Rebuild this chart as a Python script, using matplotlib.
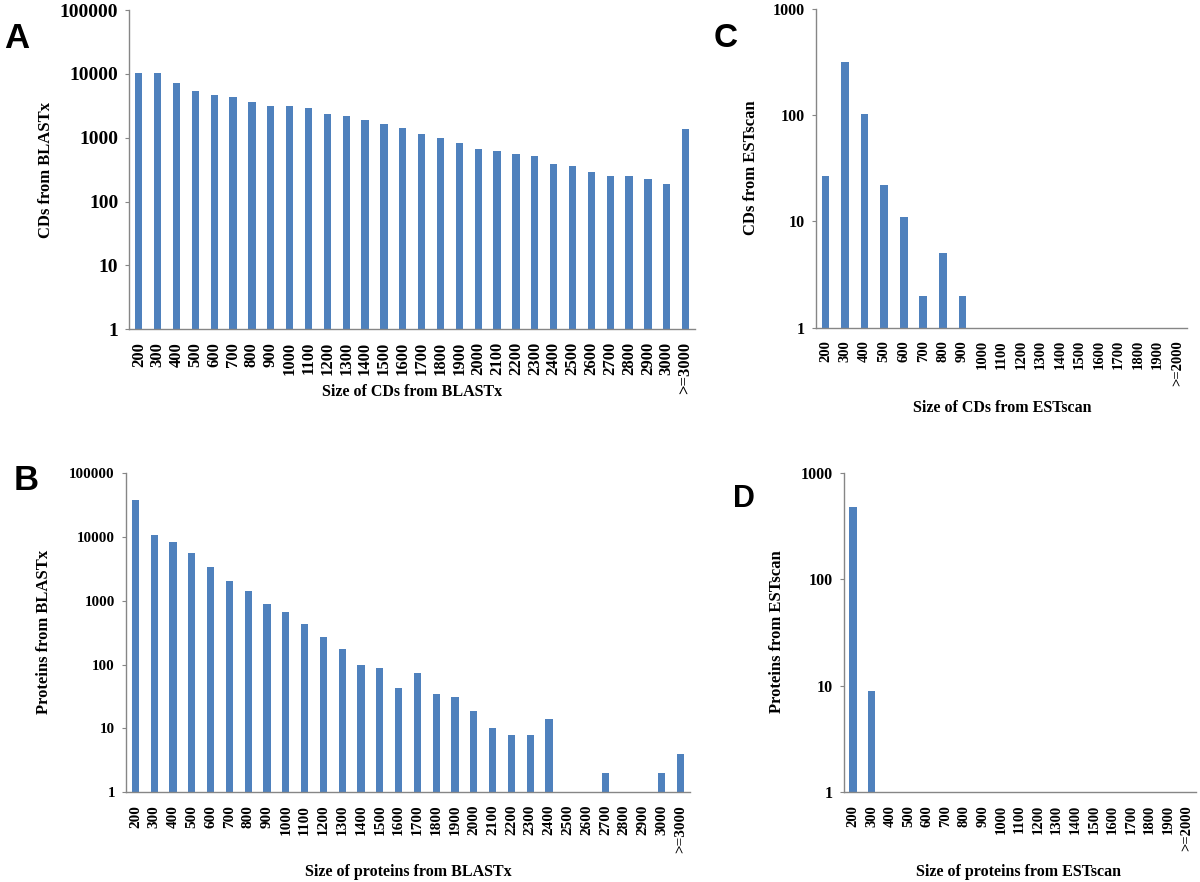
import numpy as np
import matplotlib
matplotlib.use('Agg')
import matplotlib.pyplot as plt
import matplotlib.ticker as ticker

# Categorias (tamanios)
tam_blastx = [str(t) for t in range(200, 3001, 100)] + ['>=3000']
tam_estscan = [str(t) for t in range(200, 1901, 100)] + ['>=2000']

# A: CDs de BLASTx
cds_blastx = [10300, 10500, 7180, 5400, 4650, 4280, 3650, 3090, 3130, 2880,
              2340, 2160, 1870, 1630, 1414, 1126, 997, 832, 663, 617,
              567, 520, 385, 355, 286, 256, 256, 224, 190, 1350]
# B: proteinas de BLASTx
prot_blastx = [38100, 10800, 8280, 5570, 3440, 2070, 1446, 885, 663, 440,
               272, 178, 99, 90, 43, 75, 35, 31, 19, 10,
               8, 8, 14, 0, 0, 2, 0, 0, 2, 4]
# C: CDs de ESTscan
cds_estscan = [27, 318, 103, 22, 11, 2, 5, 2] + [0] * 11
# D: proteinas de ESTscan
prot_estscan = [483, 9] + [0] * 17

azul = '#4F81BD'
gris = '#868686'
serif = 'Liberation Serif'

fig = plt.figure(figsize=(12, 8.82), dpi=100)

paneles = [
    # (rect, categorias, valores, ylim, ylabel, xlabel, tam ticks y, tam ticks x, pos ylabel, pos xlabel)
    ([0.1078, 0.6266, 0.4714, 0.3620], tam_blastx, cds_blastx, (1, 100000),
     'CDs from BLASTx', 'Size of CDs from BLASTx', 14, 12, (46, 170), (412, 392)),
    ([0.1050, 0.1017, 0.4700, 0.3617], tam_blastx, prot_blastx, (1, 100000),
     'Proteins from BLASTx', 'Size of proteins from BLASTx', 10.8, 11, (44, 632), (408, 872)),
    ([0.6798, 0.6285, 0.3094, 0.3613], tam_estscan, cds_estscan, (1, 1000),
     'CDs from ESTscan', 'Size of CDs from ESTscan', 11.5, 10.5, (751, 168), (1002, 408)),
    ([0.7031, 0.1017, 0.2933, 0.3620], tam_estscan, prot_estscan, (1, 1000),
     'Proteins from ESTscan', 'Size of proteins from ESTscan', 11.5, 10.5, (777, 632), (1018, 872)),
]

for rect, cats, vals, ylim, ylab, xlab, fy, fx, pyl, pxl in paneles:
    ax = fig.add_axes(rect)
    x = np.arange(len(cats))
    v = np.array(vals, dtype=float)
    ax.set_yscale('log')
    ax.bar(x, v, width=0.39, color=azul, bottom=0)
    ax.set_ylim(*ylim)
    ax.set_xlim(-0.5, len(cats) - 0.5)
    ax.yaxis.set_major_locator(ticker.LogLocator(base=10, numticks=10))
    ax.yaxis.set_minor_locator(ticker.NullLocator())
    ax.yaxis.set_major_formatter(ticker.FuncFormatter(lambda y, pos: '{0:g}'.format(y)))
    ax.set_xticks(x)
    ax.set_xticklabels(cats, rotation=90)
    for s in ['top', 'right']:
        ax.spines[s].set_visible(False)
    for s in ['left', 'bottom']:
        ax.spines[s].set_color(gris)
        ax.spines[s].set_linewidth(1.0)
    ax.tick_params(axis='y', length=3, color=gris, pad=5)
    ax.tick_params(axis='x', length=0, pad=9)
    for t in ax.get_yticklabels():
        t.set_fontfamily(serif)
        t.set_fontweight('bold')
        t.set_fontsize(fy)
    for t in ax.get_xticklabels():
        t.set_fontfamily(serif)
        t.set_fontweight('bold')
        t.set_fontsize(fx)
    fig.text(pyl[0] / 1200, 1 - pyl[1] / 882, ylab, rotation=90, ha='center', va='center',
             fontfamily=serif, fontweight='bold', fontsize=12)
    fig.text(pxl[0] / 1200, 1 - pxl[1] / 882, xlab, ha='center', va='center',
             fontfamily=serif, fontweight='bold', fontsize=11.5)

# Letras de los paneles
for letra, px, py, tam in [('A', 4, 48, 25), ('B', 14, 490, 25), ('C', 714, 47, 24), ('D', 733, 507, 22)]:
    fig.text(px / 1200, 1 - py / 882, letra, ha='left', va='baseline',
             fontfamily='Liberation Sans', fontweight='bold', fontsize=tam)

plt.savefig('out.png', dpi=100)
